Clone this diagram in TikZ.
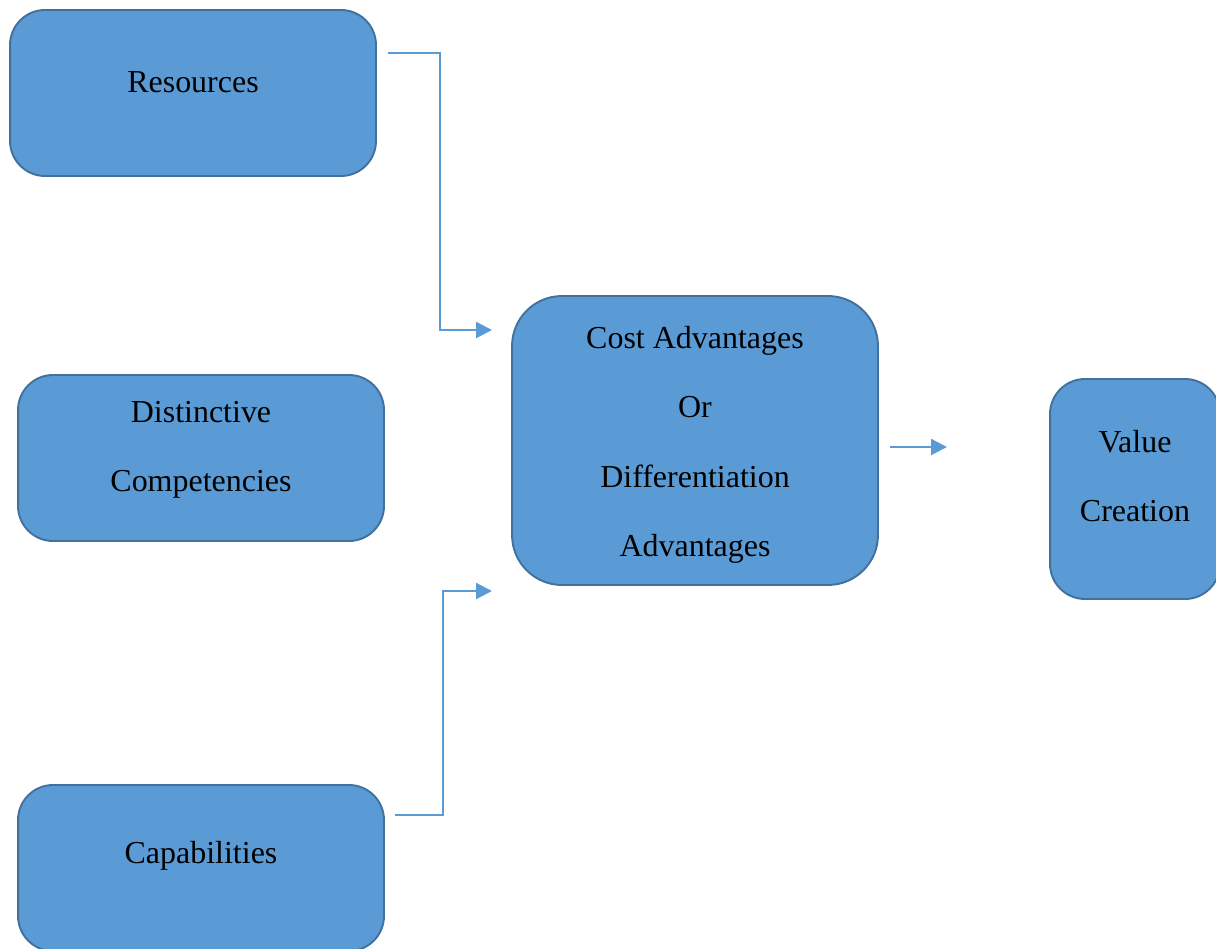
\documentclass[tikz,border=0pt]{standalone}
\usepackage{fontspec}
\setmainfont{Liberation Serif}
\usetikzlibrary{arrows.meta}
\definecolor{boxfill}{HTML}{5B9BD5}
\definecolor{boxline}{HTML}{41719C}
\begin{document}
\begin{tikzpicture}[x=0.02cm,y=-0.02cm,
  box/.style={draw=boxline,fill=boxfill,line width=1.1pt,rounded corners=0.7cm,
    minimum width=7.32cm,minimum height=3.32cm,inner sep=0pt},
  txt/.style={align=center,inner sep=0pt,font=\fontsize{18.2pt}{39.5pt}\selectfont},
  link/.style={draw=boxfill,line width=1.3pt,-{Triangle[length=9pt,width=9pt]}}]
\clip (0,0) rectangle (1216,949);
% Left column boxes
\node[box] (res) at (193,93) {};
\node[txt] (res-text) at (193,82) {Resources};
\node[box] (dist) at (201,458) {};
\node[txt] (dist-text) at (201,450) {Distinctive\\Competencies};
\node[box] (cap) at (201,868) {};
\node[txt] (cap-text) at (201,856) {Capabilities};
% Middle and right boxes
\node[box,minimum height=5.78cm,rounded corners=1cm] (cost) at (695,440.5) {};
\node[txt] (cost-text) at (695,445) {Cost Advantages\\Or\\Differentiation\\Advantages};
\node[box,minimum width=3.4cm,minimum height=4.4cm] (val) at (1135,489) {};
\node[txt] (val-text) at (1135,476) {Value\\Creation};
% Connector ends
\coordinate (res-out) at (388,53);
\coordinate (cap-out) at (395,815);
\coordinate (cost-in1) at (492,330);
\coordinate (cost-in2) at (492,591);
\coordinate (cost-out) at (890,447);
\coordinate (val-in) at (947,447);
% Arrows
\draw[link] (res-out) -- ++(52,0) |- (cost-in1);
\draw[link] (cap-out) -- ++(48,0) |- (cost-in2);
\draw[link] (cost-out) -- (val-in);
\end{tikzpicture}
\end{document}
